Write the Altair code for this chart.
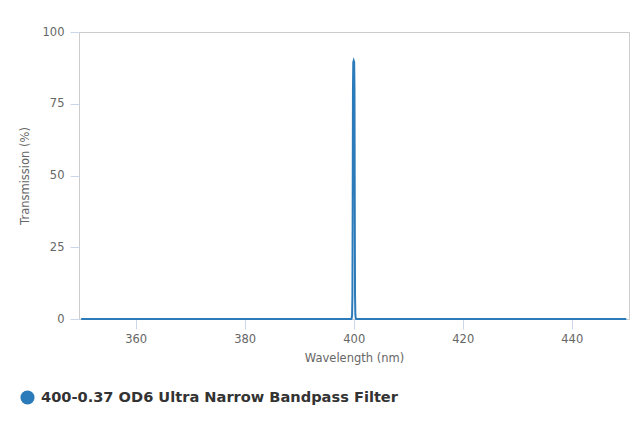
import altair as alt
import pandas as pd

# transmission curve (nm, %)
wavelength = [350.0, 399.55, 399.63, 399.7, 399.76, 399.81, 399.86, 399.92,
              400.0, 400.08, 400.14, 400.19, 400.24, 400.3, 400.37, 400.45, 450.0]
transmission = [0.0, 0.0, 0.3, 1.5, 8.0, 40.0, 80.0, 89.5,
                90.0, 89.5, 80.0, 40.0, 8.0, 1.5, 0.3, 0.0, 0.0]
series_name = "400-0.37 OD6 Ultra Narrow Bandpass Filter"

x_ticks = [360, 380, 400, 420, 440]
y_ticks = [0, 25, 50, 75, 100]

df = pd.DataFrame({
    "wavelength": wavelength,
    "transmission": transmission,
    "series": series_name,
})

AXIS_FONT = "DejaVu Sans"

chart = (
    alt.Chart(df)
    .mark_line(strokeWidth=2, interpolate="linear")
    .encode(
        x=alt.X(
            "wavelength:Q",
            scale=alt.Scale(domain=[349.6, 450.5], nice=False, zero=False),
            axis=alt.Axis(
                title="Wavelength (nm)",
                values=x_ticks,
                grid=False,
                domain=False,
                tickColor="#ccd6eb",
                tickSize=10,
                labelPadding=4,
                titlePadding=8,
            ),
        ),
        y=alt.Y(
            "transmission:Q",
            scale=alt.Scale(domain=[0, 100], nice=False),
            axis=alt.Axis(
                title="Transmission (%)",
                values=y_ticks,
                grid=False,
                domain=False,
                tickColor="#ccd6eb",
                tickSize=9,
                labelPadding=6,
                titlePadding=12,
            ),
        ),
        color=alt.Color(
            "series:N",
            scale=alt.Scale(range=["#2b7bba"]),
            legend=alt.Legend(
                title=None,
                orient="none",
                legendX=-59,
                legendY=358,
                symbolType="circle",
                symbolSize=200,
                symbolStrokeWidth=0,
                symbolFillColor="#2b7bba",
                labelFont="DejaVu Sans",
                labelFontSize=14.6,
                labelFontWeight="bold",
                labelColor="#333333",
                labelOffset=6,
                labelLimit=600,
                padding=0,
            ),
        ),
    )
    .properties(
        width=550,
        height=287,
        padding={"left": 71, "top": 24, "right": 3, "bottom": 93},
        autosize=alt.AutoSizeParams(type="none"),
    )
    .configure_view(stroke="#cccccc", strokeWidth=1)
    .configure_axis(
        labelFont=AXIS_FONT,
        labelFontSize=11.5,
        labelColor="#666666",
        titleFont=AXIS_FONT,
        titleFontSize=11.5,
        titleFontWeight="normal",
        titleColor="#666666",
    )
)

chart.save("out.html", embed_options={"renderer": "svg", "actions": False})
